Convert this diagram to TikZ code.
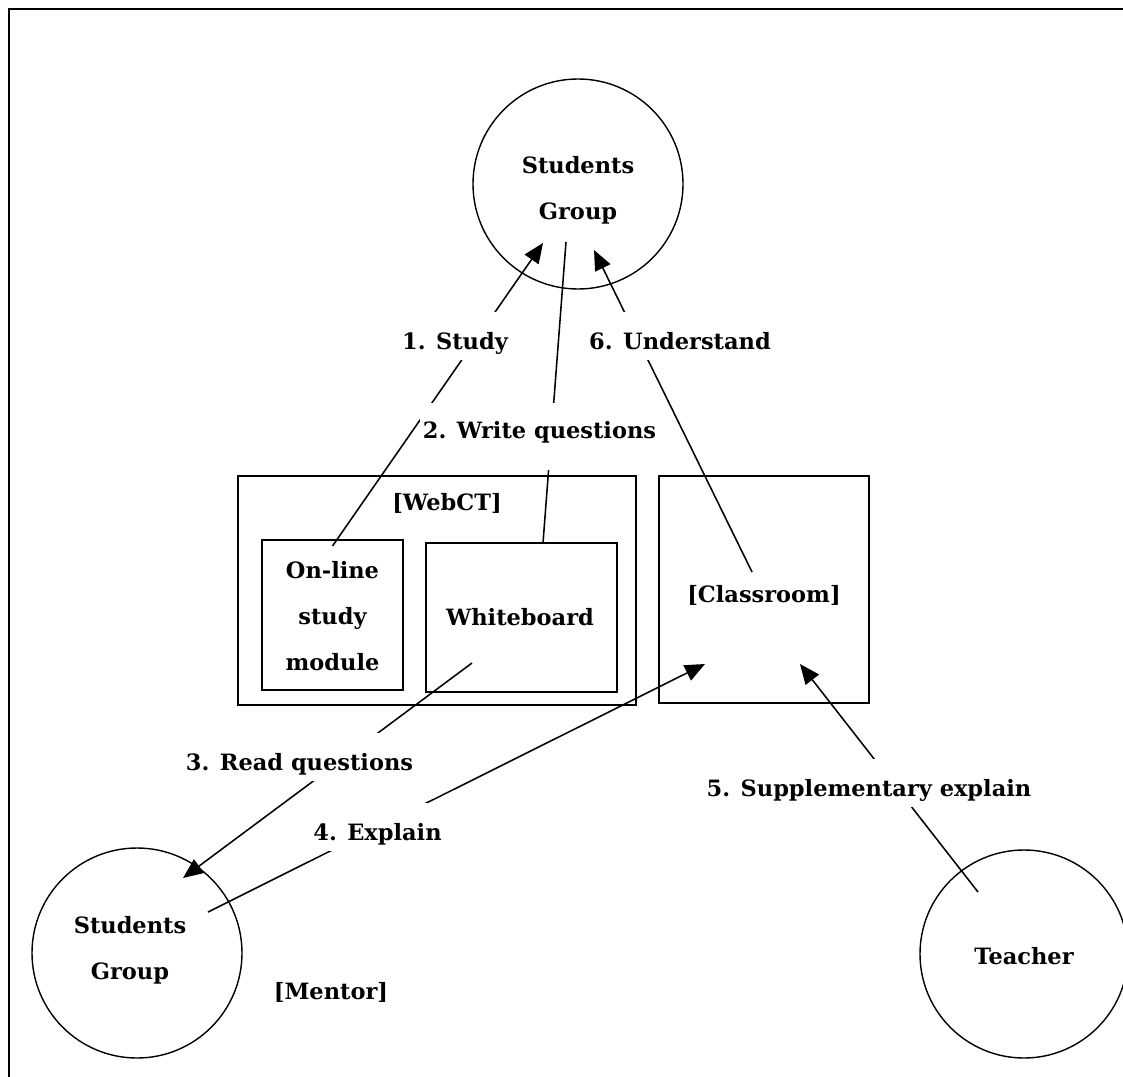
\documentclass[tikz,border=0pt]{standalone}
\usepackage{fontspec}
\setmainfont{DejaVu Serif}
\usepackage{tikz}
\usetikzlibrary{arrows.meta}
\tikzstyle{fleche} = [-{Triangle[length=0.5cm,width=0.42cm]},line width=1.1pt]
\tikzstyle{trait} = [line width=1.1pt]
\tikzstyle{boite} = [line width=1.4pt]
\tikzstyle{rond} = [line width=1pt]
\tikzstyle{etiq} = [fill=white,anchor=base,inner xsep=0.08cm,inner ysep=0pt,text height=0.925cm,text depth=0.275cm]

\begin{document}
\begin{tikzpicture}[x=0.025cm,y=-0.025cm,font=\bfseries\fontsize{16}{32.5}\selectfont]
	\useasboundingbox (0,0) rectangle (1123,1077);
	\draw[line width=1.6pt] (9,1090) -- (9,9) -- (1135,9);

	\draw[rond] (578,184) circle (105);
	\node[align=center] (topgrp) at (578,190) {Students\\Group};

	\draw[rond] (137,953) circle (105);
	\node[align=center] (mentorgrp) at (130,950) {Students\\Group};

	\draw[rond] (1024,954) circle (104);
	\node (teacher) at (1024,956) {Teacher};

	\draw[boite] (238,476) rectangle (636,705);
	\node (webct) at (447,503) {[WebCT]};

	\draw[boite] (262,540) rectangle (403,690);
	\node[align=center] (online) at (332.5,616) {On-line\\study\\module};

	\draw[boite] (426,543) rectangle (617,692);
	\node (whiteboard) at (520,617) {Whiteboard};

	\draw[boite] (659,476) rectangle (869,703);
	\node (classroom) at (764,595) {[Classroom]};

	\node (mentor) at (331,992) {[Mentor]};

	\draw[fleche] ([shift={(0,-70)}]online.center) -- ([shift={(-35,53)}]topgrp.center);
	\draw[trait] ([shift={(-12,52)}]topgrp.center) -- ([shift={(23,-74)}]whiteboard.center);
	\draw[fleche] ([shift={(-48,46)}]whiteboard.center) -- ([shift={(53,-72)}]mentorgrp.center);
	\draw[fleche] ([shift={(78,-38)}]mentorgrp.center) -- ([shift={(-59,69)}]classroom.center);
	\draw[fleche] ([shift={(-46,-64)}]teacher.center) -- ([shift={(36,69)}]classroom.center);
	\draw[fleche] ([shift={(-12,-23)}]classroom.center) -- ([shift={(16,60)}]topgrp.center);

	% labels on the lines
	\node[etiq] (l1) at (455,349) {1. Study};
	\node[etiq,text height=0.875cm,text depth=0.8cm] (l2) at (539.5,438) {2. Write questions};
	\node[etiq] (l3) at (299.5,770) {3. Read questions};
	\node[etiq] (l4) at (377.5,840) {4. Explain};
	\node[etiq] (l5) at (869,796) {5. Supplementary explain};
	\node[etiq] (l6) at (680,349) {6. Understand};

\end{tikzpicture}
\end{document}
